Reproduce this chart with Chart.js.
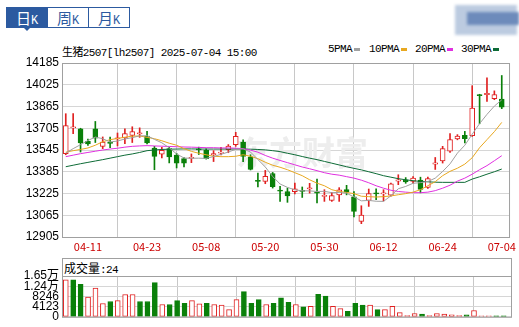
<!DOCTYPE html>
<html>
<head>
<meta charset="utf-8">
<script src="https://cdn.jsdelivr.net/npm/chart.js@4.4.1/dist/chart.umd.min.js"></script>
<style>
html, body { margin: 0; padding: 0; background: #fff; }
body { width: 519px; height: 327px; position: relative; overflow: hidden; }
canvas { position: absolute; left: 0; }
#price { top: 0; }
#vol { top: 255px; }
.tabs { position: absolute; left: 6px; top: 7px; width: 122px; height: 19px; border: 1px solid #2c5aa0; display: flex; }
.tab { flex: 1; border-left: 1px solid #2c5aa0; color: #2c5aa0; font: 15px "Noto Sans CJK SC"; line-height: 19px; text-align: center; }
.tab:first-child { border-left: none; background: #2c5aa0; color: #fff; }
.tab span { font: 12px "Liberation Mono"; }
.arrow { position: absolute; left: 23px; top: 27px; width: 0; height: 0; border-left: 4px solid transparent; border-right: 4px solid transparent; border-top: 4px solid #2c5aa0; }
.title { position: absolute; left: 62px; top: 43px; font: 11px "Liberation Mono", "Noto Sans CJK SC"; letter-spacing: -0.6px; color: #000; white-space: nowrap; }
.legend { position: absolute; top: 43px; font: 11px "Liberation Mono"; letter-spacing: -0.6px; color: #000; white-space: nowrap; }
.legend i { display: inline-block; width: 6px; height: 3px; margin-left: 2px; vertical-align: middle; }
.logo { position: absolute; left: 455px; top: 5px; width: 62px; height: 30px; background: #bccbe0; filter: blur(1.5px); }
.logo2 { position: absolute; left: 467px; top: 12px; width: 52px; height: 13px; background: #6d8bbb; filter: blur(1.5px); }
.volhead { position: absolute; left: 64px; top: 259px; font: 12px "Noto Sans CJK SC"; color: #000; white-space: nowrap; }
.volhead span { font: 11px "Liberation Mono"; letter-spacing: -0.6px; }
</style>
</head>
<body>
<div class="tabs"><div class="tab">日<span>K</span></div><div class="tab">周<span>K</span></div><div class="tab">月<span>K</span></div></div>
<div class="arrow"></div>
<div class="logo"></div><div class="logo2"></div>
<div class="title">生猪2507[lh2507] 2025-07-04 15:00</div>
<div class="legend" style="left:328px">5PMA<i style="background:#a0a0a0"></i></div>
<div class="legend" style="left:369px">10PMA<i style="background:#e8a820"></i></div>
<div class="legend" style="left:415px">20PMA<i style="background:#e030e0"></i></div>
<div class="legend" style="left:461px">30PMA<i style="background:#0d6b36"></i></div>
<div class="volhead">成交量<span>:24</span></div>
<canvas id="price" width="519" height="255"></canvas>
<canvas id="vol" width="519" height="72"></canvas>
<script>
const dates = ['04-08', '04-09', '04-10', '04-11', '04-14', '04-15', '04-16', '04-17', '04-18', '04-21',
  '04-22', '04-23', '04-24', '04-25', '04-28', '04-29', '04-30', '05-06', '05-07', '05-08',
  '05-09', '05-12', '05-13', '05-14', '05-15', '05-16', '05-19', '05-20', '05-21', '05-22',
  '05-23', '05-26', '05-27', '05-28', '05-29', '05-30', '06-03', '06-04', '06-05', '06-06',
  '06-09', '06-10', '06-11', '06-12', '06-13', '06-16', '06-17', '06-18', '06-19', '06-20',
  '06-23', '06-24', '06-25', '06-26', '06-27', '06-30', '07-01', '07-02', '07-03', '07-04']

const openP = [13518, 13708, 13700, 13608, 13700, 13572, 13602, 13626, 13634, 13653,
  13664, 13648, 13560, 13515, 13556, 13508, 13482, 13483, 13553, 13542,
  13510, 13522, 13547, 13584, 13604, 13495, 13322, 13314, 13372, 13250,
  13240, 13238, 13248, 13258, 13236, 13204, 13174, 13214, 13254, 13200,
  13020, 13174, 13230, 13222, 13213, 13315, 13326, 13314, 13324, 13270,
  13440, 13465, 13537, 13626, 13652, 13650, 13952, 13952, 13922, 13920]
const highP = [13812, 13812, 13705, 13625, 13755, 13641, 13640, 13670, 13700, 13716,
  13708, 13682, 13572, 13565, 13565, 13520, 13490, 13516, 13566, 13554,
  13540, 13565, 13585, 13675, 13620, 13510, 13376, 13395, 13380, 13278,
  13265, 13302, 13273, 13300, 13331, 13253, 13233, 13268, 13285, 13240,
  13135, 13258, 13260, 13253, 13302, 13363, 13342, 13350, 13345, 13346,
  13490, 13572, 13665, 13658, 13682, 14018, 13955, 14075, 13980, 14093]
const lowP = [13510, 13665, 13530, 13578, 13600, 13555, 13562, 13575, 13592, 13600,
  13638, 13590, 13400, 13486, 13450, 13413, 13420, 13452, 13512, 13478,
  13460, 13508, 13525, 13572, 13460, 13398, 13273, 13297, 13265, 13167,
  13160, 13222, 13196, 13228, 13155, 13167, 13167, 13167, 13215, 13052,
  13003, 13130, 13180, 13170, 13205, 13290, 13300, 13300, 13230, 13262,
  13402, 13449, 13527, 13620, 13597, 13645, 13738, 13903, 13915, 13849]
const closeP = [13724, 13716, 13597, 13590, 13632, 13604, 13594, 13634, 13665, 13680,
  13672, 13598, 13498, 13542, 13494, 13448, 13448, 13491, 13545, 13482,
  13518, 13530, 13574, 13645, 13498, 13402, 13314, 13352, 13275, 13242,
  13207, 13260, 13240, 13266, 13228, 13212, 13209, 13252, 13234, 13093,
  13067, 13224, 13222, 13230, 13297, 13325, 13310, 13339, 13255, 13334,
  13450, 13555, 13621, 13648, 13628, 13854, 13944, 13962, 13952, 13860]

const ma5 = [13522, 13555, 13584, 13615, 13640, 13628, 13604, 13611, 13626, 13636,
  13649, 13650, 13623, 13598, 13561, 13516, 13486, 13484, 13485, 13483,
  13497, 13513, 13530, 13550, 13553, 13530, 13475, 13420, 13350, 13295,
  13270, 13252, 13245, 13244, 13240, 13241, 13231, 13233, 13227, 13200,
  13171, 13174, 13168, 13167, 13208, 13260, 13277, 13300, 13305, 13313,
  13338, 13387, 13443, 13522, 13580, 13661, 13739, 13807, 13868, 13914]
const ma10 = [13529, 13540, 13549, 13560, 13580, 13606, 13621, 13630, 13639, 13647,
  13648, 13638, 13628, 13613, 13595, 13580, 13555, 13535, 13521, 13510,
  13499, 13496, 13496, 13499, 13510, 13499, 13481, 13455, 13433, 13418,
  13400, 13378, 13356, 13326, 13301, 13282, 13253, 13240, 13233, 13224,
  13205, 13202, 13199, 13202, 13207, 13216, 13224, 13235, 13253, 13282,
  13312, 13356, 13388, 13411, 13441, 13488, 13562, 13621, 13680, 13748]
const ma20 = [13496, 13507, 13518, 13527, 13536, 13545, 13552, 13558, 13566, 13572,
  13575, 13577, 13575, 13573, 13571, 13569, 13567, 13566, 13564, 13562,
  13562, 13560, 13560, 13558, 13555, 13544, 13529, 13505, 13485, 13468,
  13452, 13436, 13420, 13407, 13393, 13378, 13367, 13360, 13349, 13338,
  13323, 13304, 13282, 13264, 13249, 13240, 13235, 13231, 13231, 13235,
  13246, 13264, 13286, 13316, 13338, 13367, 13400, 13430, 13466, 13503]
const ma30 = [13422, 13433, 13444, 13454, 13464, 13474, 13485, 13496, 13507, 13516,
  13527, 13540, 13545, 13549, 13551, 13552, 13553, 13553, 13552, 13552,
  13552, 13552, 13552, 13552, 13552, 13551, 13549, 13546, 13540, 13533,
  13521, 13510, 13497, 13485, 13474, 13461, 13448, 13435, 13422, 13410,
  13399, 13385, 13371, 13356, 13345, 13334, 13326, 13319, 13314, 13311,
  13308, 13307, 13307, 13307, 13307, 13331, 13348, 13367, 13385, 13405]

const volume = [14924, 14924, 13150, 8008, 11600, 5390, 6188, 6552, 9030, 9030,
  6188, 6188, 13832, 4987, 4987, 6552, 5460, 6552, 5278, 5460,
  4987, 4732, 2912, 6916, 10192, 5460, 6916, 4987, 5460, 7644,
  5824, 4987, 4004, 4259, 9100, 8372, 4259, 3276, 2184, 5460,
  4732, 4732, 2912, 2912, 4259, 1711, 473, 1347, 1092, 473,
  1347, 1092, 837, 473, 837, 2548, 120, 110, 90, 24]
// 1 = red (up) volume bar, 0 = green
const volUp = [1, 0, 0, 1, 1, 1, 0, 1, 1, 1,
  0, 0, 0, 1, 0, 0, 0, 1, 1, 0,
  1, 1, 1, 1, 0, 0, 0, 1, 0, 0,
  0, 1, 0, 1, 0, 0, 1, 1, 0, 0,
  0, 1, 0, 1, 1, 1, 1, 1, 0, 1,
  1, 1, 1, 1, 0, 1, 1, 1, 0, 0]

const priceTicks = [12905, 13065, 13225, 13385, 13545, 13705, 13865, 14025, 14185]
const volTicks = [0, 4123, 8246, 12369, 16492]
const volTickLabels = ['0', '4123', '8246', '1.24万', '1.65万']
const dateTickIdx = [3, 11, 19, 27, 35, 43, 51, 59]

const RED = '#e02020'
const GREEN = '#0a800a'
const idx = dates.map((d, i) => i)
const up = idx.map((i) => closeP[i] >= openP[i])
const line = (label, values, color) => ({
  type: 'line', label, data: idx.map((i) => ({ x: i, y: values[i] })),
  borderColor: color, borderWidth: 1, pointRadius: 0, tension: 0, order: 0
})

const xRange = { type: 'linear', min: -0.51, max: 60.12, offset: false }
const xGrid = { color: '#c8c8c8', borderDash: [3, 3], drawTicks: false }

// box around plot area (and the volume header)
const frame = {
  id: 'frame',
  afterDraw (chart, args, opts) {
    const { ctx, chartArea: a } = chart
    const top = opts.top !== undefined ? opts.top : a.top
    ctx.save()
    ctx.strokeStyle = '#a0a0a0'
    ctx.lineWidth = 1
    ctx.strokeRect(a.left + 0.5, top + 0.5, a.right - a.left - 1, a.bottom - top)
    if (opts.top !== undefined) {
      ctx.beginPath()
      ctx.moveTo(a.left, a.top + 0.5)
      ctx.lineTo(a.right, a.top + 0.5)
      ctx.stroke()
    }
    ctx.restore()
  }
}

const watermark = {
  id: 'watermark',
  beforeDatasetsDraw (chart) {
    const { ctx } = chart
    ctx.save()
    ctx.fillStyle = '#ededed'
    ctx.font = 'bold 33px "Noto Sans CJK SC"'
    ctx.textBaseline = 'alphabetic'
    ctx.fillText('东方财富', 236, 165)
    ctx.restore()
  }
}

new Chart(document.getElementById('price'), {
  type: 'bar',
  data: {
    datasets: [
      line('5PMA', ma5, '#a0a0a0'),
      line('10PMA', ma10, '#e8a820'),
      line('20PMA', ma20, '#e030e0'),
      line('30PMA', ma30, '#0d6b36'),
      {
        label: 'body',
        data: idx.map((i) => ({ x: i, y: [openP[i], closeP[i]] })),
        backgroundColor: idx.map((i) => up[i] ? '#ffffff' : GREEN),
        borderColor: idx.map((i) => up[i] ? RED : GREEN),
        borderWidth: 1,
        borderSkipped: false,
        barThickness: 5,
        grouped: false,
        order: 5
      },
      {
        label: 'wick',
        data: idx.map((i) => ({ x: i, y: [lowP[i], highP[i]] })),
        backgroundColor: idx.map((i) => up[i] ? RED : GREEN),
        barThickness: 1,
        grouped: false,
        order: 6
      }
    ]
  },
  options: {
    responsive: false,
    animation: false,
    devicePixelRatio: 1,
    layout: { padding: { left: 0, right: 7, top: 63, bottom: 0 } },
    plugins: { legend: { display: false }, tooltip: { enabled: false }, frame: {} },
    scales: {
      x: {
        ...xRange,
        afterBuildTicks: (s) => { s.ticks = dateTickIdx.map((v) => ({ value: v })) },
        afterFit: (s) => { s.height = 18 },
        ticks: {
          callback: (v) => dates[v],
          color: '#cc0000',
          font: { family: '"Noto Sans CJK SC"', size: 11 },
          maxRotation: 0,
          autoSkip: false,
          padding: 3
        },
        grid: xGrid,
        border: { display: false }
      },
      y: {
        min: 12905,
        max: 14185,
        afterBuildTicks: (s) => { s.ticks = priceTicks.map((v) => ({ value: v })) },
        afterFit: (s) => { s.width = 62 },
        ticks: {
          callback: (v) => String(v),
          color: '#000',
          font: { family: '"Liberation Sans"', size: 12 },
          autoSkip: false,
          padding: 3
        },
        grid: { color: '#d6d6d6', drawTicks: false },
        border: { display: false }
      }
    }
  },
  plugins: [watermark, frame]
})

new Chart(document.getElementById('vol'), {
  type: 'bar',
  data: {
    datasets: [{
      label: '成交量',
      data: idx.map((i) => ({ x: i, y: volume[i] })),
      backgroundColor: idx.map((i) => volUp[i] ? '#ffffff' : GREEN),
      borderColor: idx.map((i) => volUp[i] ? RED : GREEN),
      borderWidth: 1,
      borderSkipped: false,
      barThickness: 5,
      minBarLength: 1
    }]
  },
  options: {
    responsive: false,
    animation: false,
    devicePixelRatio: 1,
    layout: { padding: { left: 0, right: 7, top: 21, bottom: 0 } },
    plugins: { legend: { display: false }, tooltip: { enabled: false }, frame: { top: 3 } },
    scales: {
      x: {
        ...xRange,
        afterBuildTicks: (s) => { s.ticks = dateTickIdx.map((v) => ({ value: v })) },
        afterFit: (s) => { s.height = 6 },
        ticks: { display: false },
        grid: xGrid,
        border: { display: false }
      },
      y: {
        min: 0,
        max: 16492,
        afterBuildTicks: (s) => { s.ticks = volTicks.map((v) => ({ value: v })) },
        afterFit: (s) => { s.width = 62 },
        ticks: {
          callback: (v) => volTickLabels[volTicks.indexOf(v)],
          color: '#000',
          font: { family: '"Liberation Sans", "Noto Sans CJK SC"', size: 12 },
          autoSkip: false,
          padding: 3
        },
        grid: { color: '#d6d6d6', drawTicks: false },
        border: { display: false }
      }
    }
  },
  plugins: [frame]
})
</script>
</body>
</html>
